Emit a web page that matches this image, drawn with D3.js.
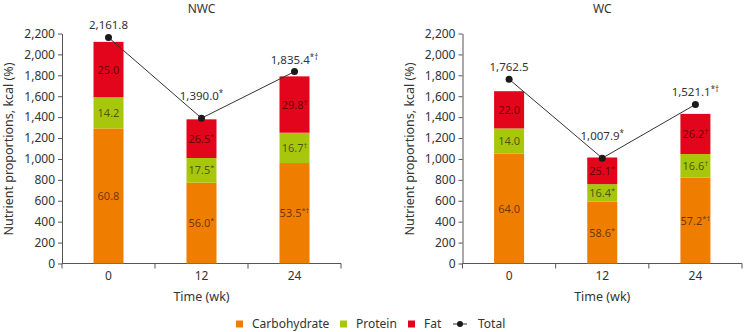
<!DOCTYPE html>
<html lang="en">
<head>
    <meta charset="UTF-8">
    <title>Nutrient proportions</title>
    <style>
        body { margin: 0; background: #fff; }
        svg { display: block; font-family: "Noto Sans", "Open Sans", sans-serif; }
        .axis path, .axis line { stroke: #555; }
        .axis text { fill: #333; font-size: 12px; font-family: "Noto Sans", sans-serif; }
    </style>
</head>
<body>
    <script src="https://d3js.org/d3.v7.min.js"></script>
    <script>
        const w = 744;
        const h = 332;

        // Data (kcal per segment, label strings, totals)
        const weeks = ["0", "12", "24"];
        const yTickValues = [0, 200, 400, 600, 800, 1000, 1200, 1400, 1600, 1800, 2000, 2200];
        const nutrients = ["Carbohydrate", "Protein", "Fat"];
        const colors = ["#ef7d00", "#a8c70c", "#e3051b"];

        const nwcCarb = [1292, 773, 961];
        const nwcProtein = [298, 236, 290];
        const nwcFat = [530, 370, 539];
        const nwcTotal = [2161.8, 1390.0, 1835.4];
        const nwcCarbLabels = ["60.8", "56.0*", "53.5*†"];
        const nwcProteinLabels = ["14.2", "17.5*", "16.7†"];
        const nwcFatLabels = ["25.0", "26.5*", "29.8†"];
        const nwcTotalLabels = ["2,161.8", "1,390.0*", "1,835.4*†"];

        const wcCarb = [1052, 592, 821];
        const wcProtein = [240, 167, 226];
        const wcFat = [356, 255, 384];
        const wcTotal = [1762.5, 1007.9, 1521.1];
        const wcCarbLabels = ["64.0", "58.6*", "57.2*†"];
        const wcProteinLabels = ["14.0", "16.4*", "16.6†"];
        const wcFatLabels = ["22.0", "25.1*", "26.2†"];
        const wcTotalLabels = ["1,762.5", "1,007.9*", "1,521.1*†"];

        const svg = d3.select("body")
                      .append("svg")
                      .attr("width", w)
                      .attr("height", h);

        const yScale = d3.scaleLinear()
                         .domain([0, 2200])
                         .range([263.5, 33.5]);

        // write "56.0*" as number + superscript marks
        function labelText(sel, str, supSize) {
            const m = str.match(/^([\d.,]+)(.*)$/);
            sel.append("tspan").text(m[1]);
            if (m[2]) {
                sel.append("tspan")
                   .attr("dy", -4)
                   .attr("font-size", supSize)
                   .text(m[2]);
            }
        }

        function drawPanel(title, left, right, carb, protein, fat, total, carbLab, protLab, fatLab, totLab, labelX) {
            const xScale = d3.scaleBand()
                             .domain(weeks)
                             .range([left, right]);
            const barW = 30;

            const g = svg.append("g");

            // y axis
            g.append("g")
             .attr("class", "axis")
             .attr("transform", `translate(${left}, 0)`)
             .call(d3.axisLeft(yScale).tickValues(yTickValues).tickSize(4).tickSizeOuter(0).tickFormat(d3.format(",")));

            // x axis: ticks at band edges, labels at band centres
            const xAx = g.append("g")
             .attr("class", "axis")
             .attr("transform", `translate(0, ${yScale(0)})`)
             .call(d3.axisBottom(xScale).tickSize(0).tickSizeOuter(0).tickPadding(8));
            xAx.select(".domain").remove();
            xAx.append("line")
               .attr("x1", left).attr("x2", right)
               .attr("stroke", "#555");
            xAx.selectAll(".edge")
               .data(d3.range(weeks.length + 1))
               .enter()
               .append("line")
               .attr("class", "edge")
               .attr("x1", i => left + i * xScale.step())
               .attr("x2", i => left + i * xScale.step())
               .attr("y1", 0)
               .attr("y2", 5)
               .attr("stroke", "#555");

            // stacked bars
            const rows = weeks.map((wk, i) => ({ wk: wk, Carbohydrate: carb[i], Protein: protein[i], Fat: fat[i] }));
            const stack = d3.stack().keys(nutrients)(rows);
            const labels = [carbLab, protLab, fatLab];

            stack.forEach((layer, k) => {
                g.selectAll(null)
                 .data(layer)
                 .enter()
                 .append("rect")
                 .attr("x", d => xScale(d.data.wk) + xScale.bandwidth() / 2 - barW / 2)
                 .attr("y", d => yScale(d[1]))
                 .attr("width", barW)
                 .attr("height", d => yScale(d[0]) - yScale(d[1]))
                 .attr("fill", colors[k]);

                g.selectAll(null)
                 .data(layer)
                 .enter()
                 .append("text")
                 .attr("x", d => xScale(d.data.wk) + xScale.bandwidth() / 2)
                 .attr("y", d => (yScale(d[0]) + yScale(d[1])) / 2 + 4)
                 .attr("text-anchor", "middle")
                 .attr("font-size", 11)
                 .attr("fill", "rgba(0,0,0,0.58)")
                 .each(function (d, i) { labelText(d3.select(this), labels[k][i], 7.5); });
            });

            // total line
            const line = d3.line()
                           .x((d, i) => xScale(weeks[i]) + xScale.bandwidth() / 2)
                           .y(d => yScale(d));
            g.append("path")
             .datum(total)
             .attr("d", line)
             .attr("fill", "none")
             .attr("stroke", "#333")
             .attr("stroke-width", 1);

            g.selectAll(null)
             .data(total)
             .enter()
             .append("circle")
             .attr("cx", (d, i) => xScale(weeks[i]) + xScale.bandwidth() / 2)
             .attr("cy", d => yScale(d))
             .attr("r", 3.5)
             .attr("fill", "#1a1a1a");

            g.selectAll(null)
             .data(total)
             .enter()
             .append("text")
             .attr("x", (d, i) => xScale(weeks[i]) + xScale.bandwidth() / 2)
             .attr("y", (d, i) => yScale(d) - (i === 1 ? 18 : 8))
             .attr("text-anchor", "middle")
             .attr("font-size", 11.5)
             .attr("fill", "#333")
             .each(function (d, i) { labelText(d3.select(this), totLab[i], 8); });

            // titles
            g.append("text")
             .attr("x", (left + right) / 2)
             .attr("y", 13)
             .attr("text-anchor", "middle")
             .attr("font-size", 12)
             .attr("fill", "#333")
             .text(title);

            g.append("text")
             .attr("x", (left + right) / 2)
             .attr("y", 301)
             .attr("text-anchor", "middle")
             .attr("font-size", 12.5)
             .attr("fill", "#333")
             .text("Time (wk)");

            g.append("text")
             .attr("transform", `translate(${labelX}, 149) rotate(-90)`)
             .attr("text-anchor", "middle")
             .attr("font-size", 12.5)
             .attr("fill", "#333")
             .text("Nutrient proportions, kcal (%)");
        }

        drawPanel("NWC", 62, 341, nwcCarb, nwcProtein, nwcFat, nwcTotal,
                  nwcCarbLabels, nwcProteinLabels, nwcFatLabels, nwcTotalLabels, 13);
        drawPanel("WC", 462.5, 742, wcCarb, wcProtein, wcFat, wcTotal,
                  wcCarbLabels, wcProteinLabels, wcFatLabels, wcTotalLabels, 413.5);

        // legend
        const legendItems = nutrients.concat(["Total"]);
        const legendX = [236, 340, 408, 453];
        const legend = svg.append("g").attr("transform", "translate(0, 324)");
        legendItems.forEach((name, i) => {
            const item = legend.append("g").attr("transform", `translate(${legendX[i]}, 0)`);
            if (i < 3) {
                item.append("rect")
                    .attr("x", 0).attr("y", -3.5)
                    .attr("width", 7).attr("height", 7)
                    .attr("fill", colors[i]);
                item.append("text")
                    .attr("x", 16).attr("y", 4)
                    .attr("font-size", 12)
                    .attr("fill", "#333")
                    .text(name);
            } else {
                item.append("line")
                    .attr("x1", 0).attr("x2", 14)
                    .attr("stroke", "#333");
                item.append("circle")
                    .attr("cx", 7).attr("r", 3)
                    .attr("fill", "#1a1a1a");
                item.append("text")
                    .attr("x", 25).attr("y", 4)
                    .attr("font-size", 12)
                    .attr("fill", "#333")
                    .text(name);
            }
        });
    </script>
</body>
</html>
